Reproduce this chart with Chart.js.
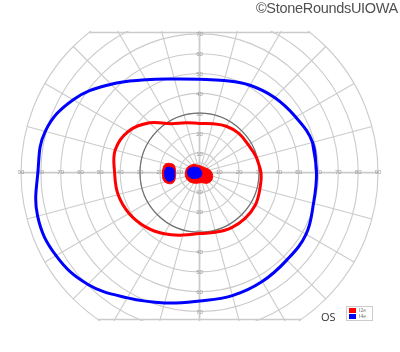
<!DOCTYPE html>
<html>
<head>
<meta charset="utf-8">
<script src="https://cdn.jsdelivr.net/npm/chart.js@4.4.1/dist/chart.umd.min.js"></script>
<style>
  body { margin: 0; background: #fff; }
  #wrap { position: relative; width: 400px; height: 352px; overflow: hidden; }
  #copy { position: absolute; right: 2px; top: 0px; font: 14.5px "Liberation Sans", Arial, sans-serif; color: #505050; letter-spacing: -0.3px; }
  #eye { position: absolute; left: 321px; top: 309px; font: 11px "Open Sans", sans-serif; color: #333; }
  #legend { position: absolute; left: 346px; top: 306px; width: 25px; height: 13px; border: 1px solid #ccc; background: #fff; font: 5px Arial, sans-serif; color: #777; }
  #legend div { position: relative; height: 6px; line-height: 6px; padding-left: 12px; }
  #legend span { position: absolute; left: 2px; top: 0.5px; width: 7px; height: 5.5px; }
</style>
</head>
<body>
<div id="wrap">
  <canvas id="fieldChart" width="400" height="352"></canvas>
  <div id="copy">©StoneRoundsUIOWA</div>
  <div id="eye">OS</div>
  <div id="legend">
    <div><span style="background:#ff0000"></span>I2e</div>
    <div><span style="background:#0000ff"></span>I4e</div>
  </div>
</div>
<script>
// meridians in degrees, counter-clockwise from the right-hand horizontal
const meridians = [0, 15, 30, 45, 60, 75, 90, 105, 120, 135, 150, 165, 180, 195, 210, 225, 240, 255, 270, 285, 300, 315, 330, 345];
// isopter eccentricity (deg) on each meridian
const i4eEcc = [59, 59, 56, 53.5, 50.8, 48, 47, 48.8, 54, 63, 73.5, 80.5, 81.5, 84.5, 83.5, 79.5, 72.7, 67.8, 64.5, 64, 63.2, 62.2, 62, 59.5];
const i2eEcc = [31, 29.7, 28.3, 28, 27, 25.5, 24.8, 26, 28.5, 35.5, 41.5, 44, 42.8, 42.5, 41, 38.5, 35.5, 32.5, 30.6, 31, 32, 32.5, 32.5, 31.5];

// scotoma outlines, [x, y] in degrees
const i2eSpotLeft = [[-15.5, 4.8], [-13, 4], [-12.1, 1], [-12.3, -3], [-13.5, -5.2], [-16, -5.4], [-18, -4], [-18.7, -1], [-18.3, 2.5], [-17.3, 4.3]];
const i4eSpotLeft = [[-15, 2.8], [-13.2, 2], [-12.6, -0.5], [-13, -3.2], [-14.8, -4.3], [-16.5, -3.8], [-17.6, -1.5], [-17.3, 1.5], [-16.3, 2.7]];
const i2eSpotCenter = [[-3, 4.3], [0, 3.6], [2.5, 2.6], [4.5, 1.8], [6, 0.5], [6.6, -1.5], [6, -4], [3.8, -5.3], [1, -5], [-2, -5.3], [-5, -4.5], [-6.8, -2.5], [-7.1, 0], [-6, 2.8]];
const i4eSpotCenter = [[-3.5, 2.8], [-0.5, 2.5], [1, 0.5], [0.8, -1.8], [-1.5, -2.8], [-4.5, -2.5], [-6, -0.5], [-5.5, 1.8]];

// grid
const rings = [5, 10, 20, 30, 40, 50, 60, 70, 80, 90];
const gridMeridians = meridians;
const hLabels = [10, 20, 30, 40, 50, 60, 70, 80, 90];
const vLabels = [10, 20, 30, 40, 50, 60, 70];

function isopter(ecc) {
  const pts = meridians.map((m, i) => ({
    x: ecc[i] * Math.cos(m * Math.PI / 180),
    y: ecc[i] * Math.sin(m * Math.PI / 180)
  }));
  return pts.concat([pts[0], pts[1]]);
}
function outline(list) {
  const pts = list.map(p => ({ x: p[0], y: p[1] }));
  return pts.concat([pts[0]]);
}

const gridPlugin = {
  id: 'perimeterGrid',
  beforeDatasetsDraw(chart) {
    const { ctx, chartArea: a, scales: { x, y } } = chart;
    const cx = x.getPixelForValue(0), cy = y.getPixelForValue(0);
    const rad = d => x.getPixelForValue(d) - cx;
    const R = rad(90);
    ctx.save();
    ctx.beginPath();
    ctx.rect(a.left - 1, a.top - 1, a.width + 2, a.height + 2);
    ctx.clip();
    ctx.strokeStyle = '#cbcbcb';
    ctx.lineWidth = 1.1;
    rings.forEach(r => {
      ctx.beginPath();
      ctx.arc(cx, cy, rad(r), 0, Math.PI * 2);
      ctx.stroke();
    });
    gridMeridians.forEach(m => {
      const t = m * Math.PI / 180;
      ctx.lineWidth = (m % 90 === 0) ? 1.8 : 1.1;
      ctx.beginPath();
      ctx.moveTo(cx, cy);
      ctx.lineTo(cx + R * Math.cos(t), cy - R * Math.sin(t));
      ctx.stroke();
    });
    // straight top and bottom edges
    ctx.lineWidth = 1.5;
    [a.top + 0.5, a.bottom - 0.5].forEach(py => {
      const dy = py - cy;
      const half = Math.sqrt(Math.max(0, R * R - dy * dy));
      ctx.beginPath();
      ctx.moveTo(cx - half, py);
      ctx.lineTo(cx + half, py);
      ctx.stroke();
    });
    // 30 degree ring
    ctx.strokeStyle = '#707070';
    ctx.lineWidth = 1.2;
    ctx.beginPath();
    ctx.arc(cx, cy, rad(30), 0, Math.PI * 2);
    ctx.stroke();
    ctx.restore();

    ctx.save();
    ctx.fillStyle = '#9a9a9a';
    ctx.font = '6px Arial';
    ctx.textAlign = 'center';
    ctx.textBaseline = 'middle';
    hLabels.forEach(v => {
      ctx.fillText(String(v), x.getPixelForValue(v), cy);
      ctx.fillText(String(v), x.getPixelForValue(-v), cy);
    });
    vLabels.forEach(v => {
      ctx.fillText(String(v), cx, y.getPixelForValue(v) + 1);
      ctx.fillText(String(v), cx, y.getPixelForValue(-v));
    });
    ctx.restore();
  }
};

const red = '#ff0000';
const blue = '#0000ff';

// index 0 is painted last, so blue spots come before red spots
new Chart(document.getElementById('fieldChart'), {
  type: 'scatter',
  data: {
    datasets: [
      { label: 'I4e', data: isopter(i4eEcc), showLine: true, borderColor: blue, borderWidth: 3, tension: 0.4, pointRadius: 0, fill: false },
      { label: 'I2e', data: isopter(i2eEcc), showLine: true, borderColor: red, borderWidth: 3, tension: 0.4, pointRadius: 0, fill: false },
      { label: 'I4e spot', data: outline(i4eSpotLeft), showLine: true, borderColor: blue, backgroundColor: blue, borderWidth: 1, tension: 0.4, pointRadius: 0, fill: 'shape' },
      { label: 'I4e spot', data: outline(i4eSpotCenter), showLine: true, borderColor: blue, backgroundColor: blue, borderWidth: 1, tension: 0.4, pointRadius: 0, fill: 'shape' },
      { label: 'I2e spot', data: outline(i2eSpotLeft), showLine: true, borderColor: red, backgroundColor: red, borderWidth: 1, tension: 0.4, pointRadius: 0, fill: 'shape' },
      { label: 'I2e spot', data: outline(i2eSpotCenter), showLine: true, borderColor: red, backgroundColor: red, borderWidth: 1, tension: 0.4, pointRadius: 0, fill: 'shape' }
    ]
  },
  options: {
    responsive: false,
    animation: false,
    layout: { padding: { left: 21, right: 22, top: 32, bottom: 32 } },
    plugins: {
      legend: { display: false },
      tooltip: { enabled: false }
    },
    scales: {
      x: { type: 'linear', min: -90, max: 90, display: false },
      y: { type: 'linear', min: -74.1, max: 70.8, display: false }
    }
  },
  plugins: [gridPlugin]
});
</script>
</body>
</html>
